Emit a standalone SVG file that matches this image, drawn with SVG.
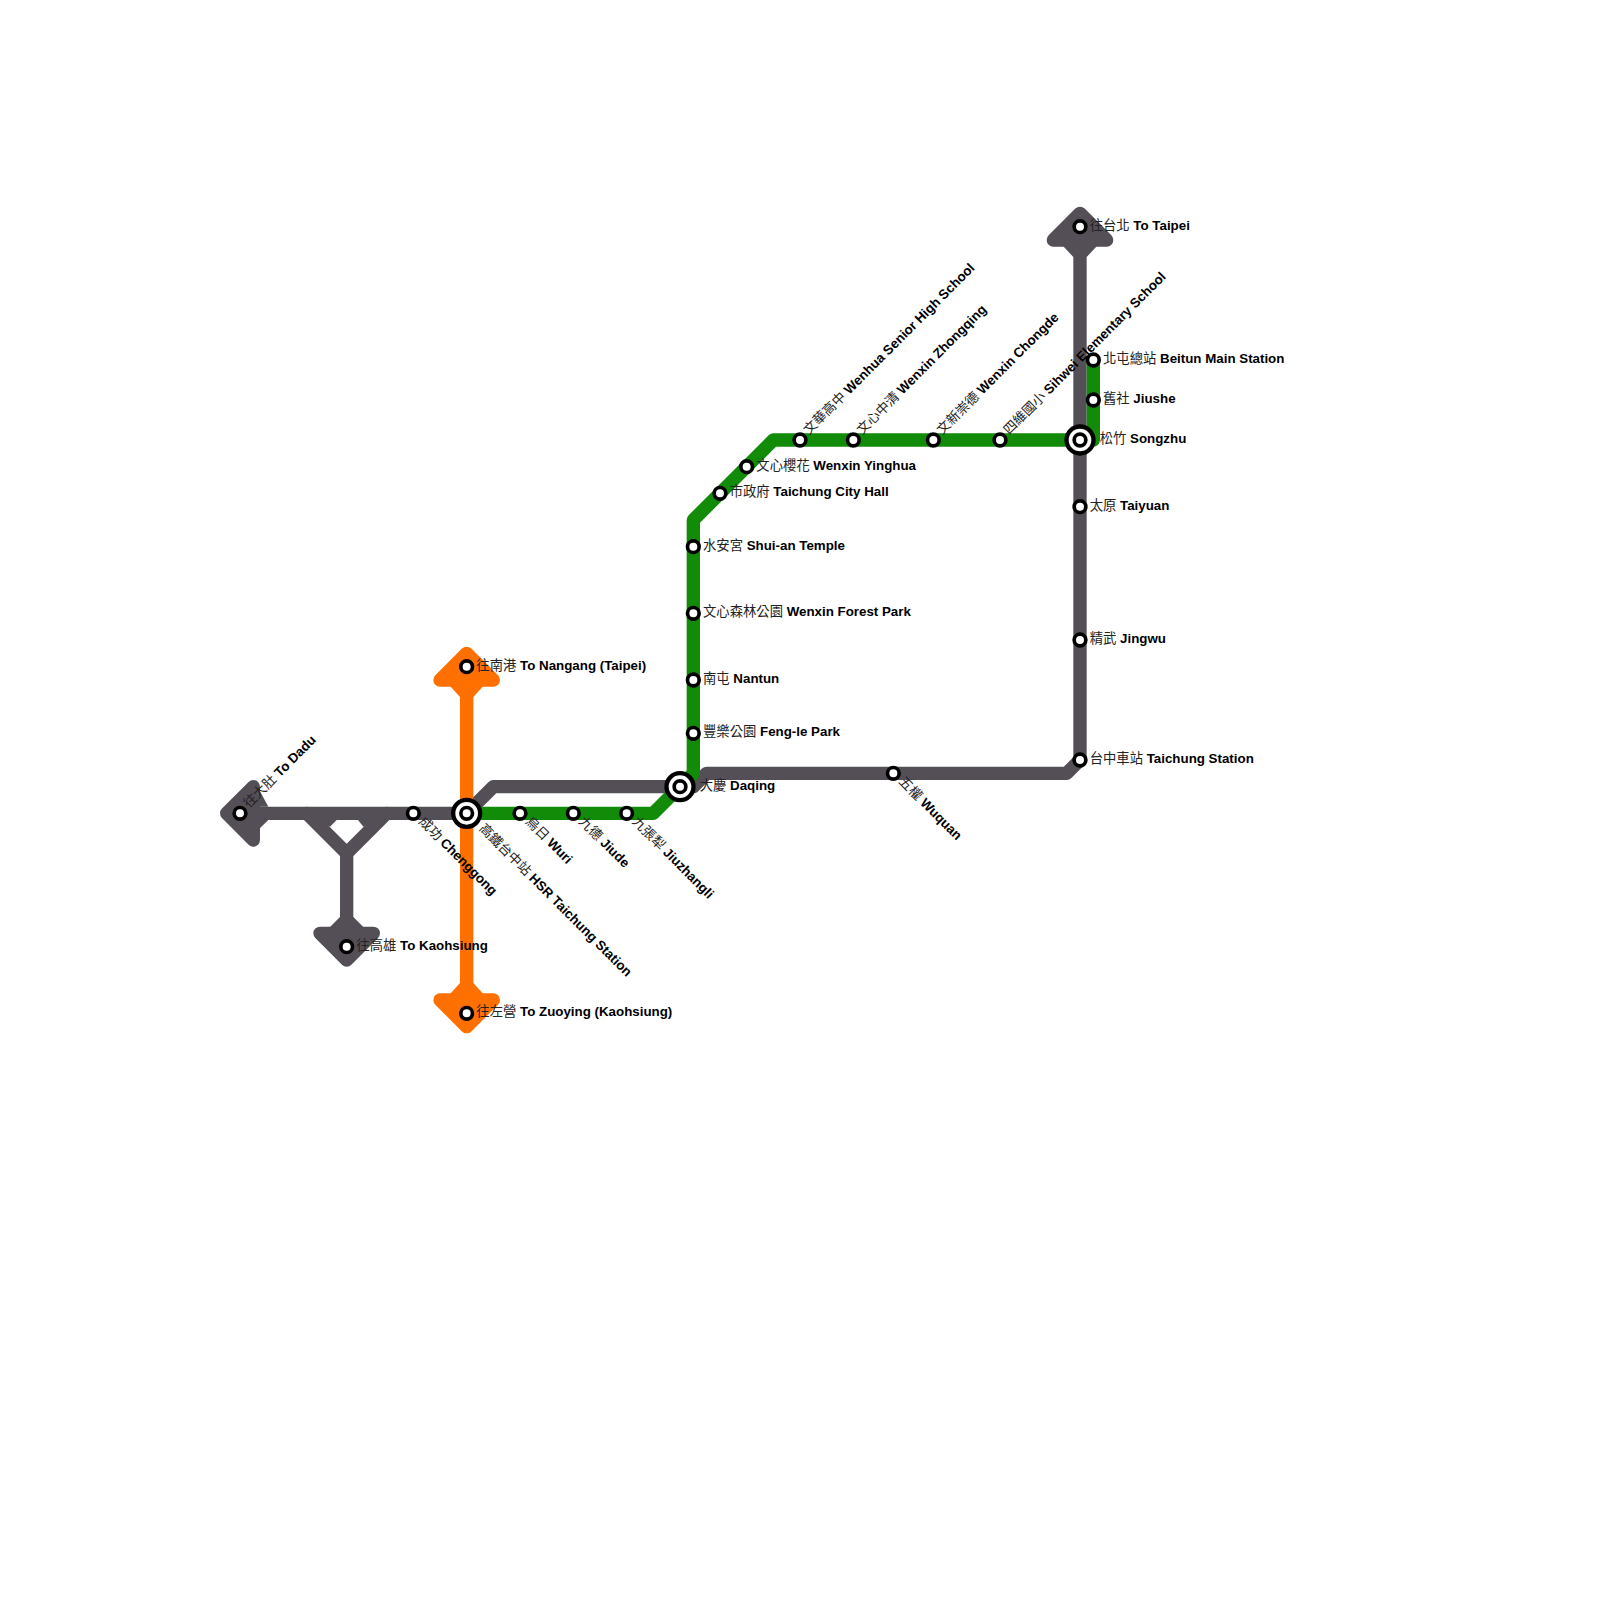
<svg xmlns="http://www.w3.org/2000/svg" width="1600" height="1600" viewBox="0 0 1600 1600">
<style>
.l{fill:none;stroke-width:13.33;stroke-linejoin:round;stroke-linecap:round}
.g{stroke:#544f56}.gf{fill:#544f56}.gs{fill:#544f56;stroke:#544f56;stroke-width:13.33;stroke-linejoin:round}
.gr{stroke:#128c08}
.o{stroke:#ff7000}.of{fill:#ff7000}.os{fill:#ff7000;stroke:#ff7000;stroke-width:13.33;stroke-linejoin:round}
.s{fill:#fff;stroke:#000;stroke-width:3.67}
.x{fill:#fff;stroke:#000;stroke-width:4.33}
text{font-family:"Liberation Sans","Noto Sans CJK TC",sans-serif;font-size:13.33px;fill:#000}
.c{font-family:"Noto Sans CJK TC","Liberation Sans",sans-serif;fill:#222}
.b{font-weight:bold}
</style>
<rect width="1600" height="1600" fill="#fff"/>
<g id="connectors">
<path class="l g" d="M1080 226.67V760L1066.67 773.33H706.67L693.33 786.67H680"/>
<path class="l g" d="M680 786.67H493.33L466.67 813.33H240"/>
<path class="l g" d="M306.67 813.33L346.67 853.33V946.67M386.67 813.33L346.67 853.33"/>
<polygon class="gf" points="318,820 336.67,820 330,826.67"/>
<polygon class="gf" points="358,820 375,820 363.33,826.67"/>
<polygon class="gs" points="226.67,813.33 253.33,786.67 253.33,840"/>
<polygon class="gf" points="255,782 268.33,806.67 255,806.67"/>
<polygon class="gf" points="255,833 268.33,820 255,820"/>
<polygon class="gs" points="346.67,960 320,933.33 373.33,933.33"/>
<polygon class="gf" points="330,927 363.33,927 353.33,917 340,917"/>
<polygon class="gs" points="1080,213.33 1053.33,240 1106.67,240"/>
<polygon class="gf" points="1063,246 1097,246 1086.67,257 1073.33,257"/>
<path class="l o" d="M466.67 666.67V1013.33"/>
<polygon class="os" points="466.67,653.33 440,680 493.33,680"/>
<polygon class="of" points="450,686 483.33,686 473.33,697 460,697"/>
<polygon class="os" points="466.67,1026.67 440,1000 493.33,1000"/>
<polygon class="of" points="450,994 483.33,994 473.33,983 460,983"/>
<path class="l gr" d="M466.67 813.33H653.33L693.33 773.33V520L773.33 440H1093.33V360"/>
</g>
<g id="n-dadu"><circle class="s" cx="240" cy="813.33" r="5.83"/><text transform="rotate(-45 240 813.33)" x="249.67" y="816.33"><tspan class="c">往大肚</tspan> <tspan class="b">To Dadu</tspan></text></g>
<g id="n-kaohsiung"><circle class="s" cx="346.67" cy="946.67" r="5.83"/><text x="356.33" y="949.67"><tspan class="c">往高雄</tspan> <tspan class="b">To Kaohsiung</tspan></text></g>
<g id="n-chenggong"><circle class="s" cx="413.33" cy="813.33" r="5.83"/><text transform="rotate(45 413.33 813.33)" x="423" y="816.33"><tspan class="c">成功</tspan> <tspan class="b">Chenggong</tspan></text></g>
<g id="n-nangang"><circle class="s" cx="466.67" cy="666.67" r="5.83"/><text x="476.33" y="669.67"><tspan class="c">往南港</tspan> <tspan class="b">To Nangang (Taipei)</tspan></text></g>
<g id="n-zuoying"><circle class="s" cx="466.67" cy="1013.33" r="5.83"/><text x="476.33" y="1016.33"><tspan class="c">往左營</tspan> <tspan class="b">To Zuoying (Kaohsiung)</tspan></text></g>
<g id="n-hsr"><circle class="x" cx="466.67" cy="813.33" r="13.5"/><circle class="s" cx="466.67" cy="813.33" r="5.83"/><text transform="rotate(45 466.67 813.33)" x="486.33" y="816.33"><tspan class="c">高鐵台中站</tspan> <tspan class="b">HSR Taichung Station</tspan></text></g>
<g id="n-wuri"><circle class="s" cx="520" cy="813.33" r="5.83"/><text transform="rotate(45 520 813.33)" x="529.67" y="816.33"><tspan class="c">烏日</tspan> <tspan class="b">Wuri</tspan></text></g>
<g id="n-jiude"><circle class="s" cx="573.33" cy="813.33" r="5.83"/><text transform="rotate(45 573.33 813.33)" x="583" y="816.33"><tspan class="c">九德</tspan> <tspan class="b">Jiude</tspan></text></g>
<g id="n-jiuzhangli"><circle class="s" cx="626.67" cy="813.33" r="5.83"/><text transform="rotate(45 626.67 813.33)" x="636.33" y="816.33"><tspan class="c">九張犁</tspan> <tspan class="b">Jiuzhangli</tspan></text></g>
<g id="n-daqing"><circle class="x" cx="680" cy="786.67" r="13.5"/><circle class="s" cx="680" cy="786.67" r="5.83"/><text x="699.67" y="789.67"><tspan class="c">大慶</tspan> <tspan class="b">Daqing</tspan></text></g>
<g id="n-fengle"><circle class="s" cx="693.33" cy="733.33" r="5.83"/><text x="703" y="736.33"><tspan class="c">豐樂公園</tspan> <tspan class="b">Feng-le Park</tspan></text></g>
<g id="n-nantun"><circle class="s" cx="693.33" cy="680" r="5.83"/><text x="703" y="683"><tspan class="c">南屯</tspan> <tspan class="b">Nantun</tspan></text></g>
<g id="n-forest"><circle class="s" cx="693.33" cy="613.33" r="5.83"/><text x="703" y="616.33"><tspan class="c">文心森林公園</tspan> <tspan class="b">Wenxin Forest Park</tspan></text></g>
<g id="n-shuian"><circle class="s" cx="693.33" cy="546.67" r="5.83"/><text x="703" y="549.67"><tspan class="c">水安宮</tspan> <tspan class="b">Shui-an Temple</tspan></text></g>
<g id="n-cityhall"><circle class="s" cx="720" cy="493.33" r="5.83"/><text x="729.67" y="496.33"><tspan class="c">市政府</tspan> <tspan class="b">Taichung City Hall</tspan></text></g>
<g id="n-yinghua"><circle class="s" cx="746.67" cy="466.67" r="5.83"/><text x="756.33" y="469.67"><tspan class="c">文心櫻花</tspan> <tspan class="b">Wenxin Yinghua</tspan></text></g>
<g id="n-wenhua"><circle class="s" cx="800" cy="440" r="5.83"/><text transform="rotate(-45 800 440)" x="809.67" y="443"><tspan class="c">文華高中</tspan> <tspan class="b">Wenhua Senior High School</tspan></text></g>
<g id="n-zhongqing"><circle class="s" cx="853.33" cy="440" r="5.83"/><text transform="rotate(-45 853.33 440)" x="863" y="443"><tspan class="c">文心中清</tspan> <tspan class="b">Wenxin Zhongqing</tspan></text></g>
<g id="n-chongde"><circle class="s" cx="933.33" cy="440" r="5.83"/><text transform="rotate(-45 933.33 440)" x="943" y="443"><tspan class="c">文新崇德</tspan> <tspan class="b">Wenxin Chongde</tspan></text></g>
<g id="n-sihwei"><circle class="s" cx="1000" cy="440" r="5.83"/><text transform="rotate(-45 1000 440)" x="1009.67" y="443"><tspan class="c">四維國小</tspan> <tspan class="b">Sihwei Elementary School</tspan></text></g>
<g id="n-wuquan"><circle class="s" cx="893.33" cy="773.33" r="5.83"/><text transform="rotate(45 893.33 773.33)" x="903" y="776.33"><tspan class="c">五權</tspan> <tspan class="b">Wuquan</tspan></text></g>
<g id="n-taipei"><circle class="s" cx="1080" cy="226.67" r="5.83"/><text x="1089.67" y="229.67"><tspan class="c">往台北</tspan> <tspan class="b">To Taipei</tspan></text></g>
<g id="n-beitun"><circle class="s" cx="1093.33" cy="360" r="5.83"/><text x="1103" y="363"><tspan class="c">北屯總站</tspan> <tspan class="b">Beitun Main Station</tspan></text></g>
<g id="n-jiushe"><circle class="s" cx="1093.33" cy="400" r="5.83"/><text x="1103" y="403"><tspan class="c">舊社</tspan> <tspan class="b">Jiushe</tspan></text></g>
<g id="n-songzhu"><circle class="x" cx="1080" cy="440" r="13.5"/><circle class="s" cx="1080" cy="440" r="5.83"/><text x="1099.67" y="443"><tspan class="c">松竹</tspan> <tspan class="b">Songzhu</tspan></text></g>
<g id="n-taiyuan"><circle class="s" cx="1080" cy="506.67" r="5.83"/><text x="1089.67" y="509.67"><tspan class="c">太原</tspan> <tspan class="b">Taiyuan</tspan></text></g>
<g id="n-jingwu"><circle class="s" cx="1080" cy="640" r="5.83"/><text x="1089.67" y="643"><tspan class="c">精武</tspan> <tspan class="b">Jingwu</tspan></text></g>
<g id="n-taichung"><circle class="s" cx="1080" cy="760" r="5.83"/><text x="1089.67" y="763"><tspan class="c">台中車站</tspan> <tspan class="b">Taichung Station</tspan></text></g>
</svg>
